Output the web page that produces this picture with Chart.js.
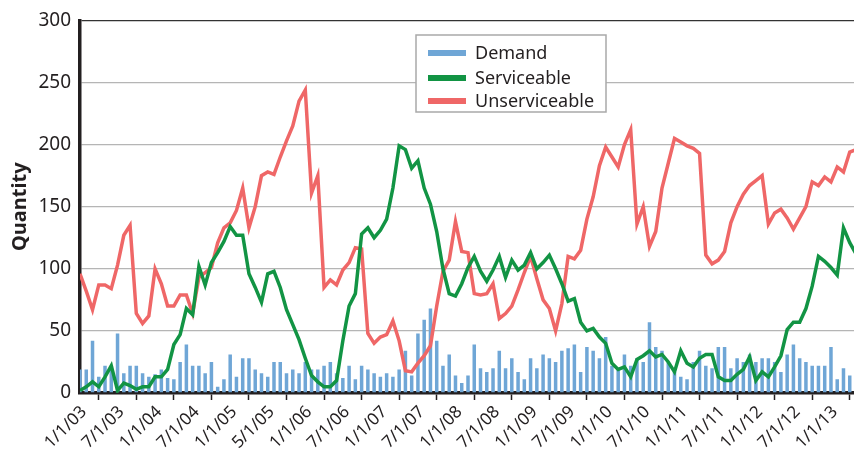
<!DOCTYPE html>
<html>
<head>
<meta charset="utf-8">
<script src="https://cdn.jsdelivr.net/npm/chart.js@4/dist/chart.umd.min.js"></script>
<style>
  html, body { margin:0; padding:0; background:#fff; overflow:hidden; }
  #wrap { width:860px; height:456px; }
</style>
</head>
<body>
<div id="wrap"><canvas id="chart" width="860" height="456"></canvas></div>
<script>
// ---------- DATA ----------
// one point per period, tick label every 6th point
const tickLabels = ["1/1/03","7/1/03","1/1/04","7/1/04","1/1/05","5/1/05","1/1/06","7/1/06",
  "1/1/07","7/1/07","1/1/08","7/1/08","1/1/09","7/1/09","1/1/10","7/1/10","1/1/11","7/1/11",
  "1/1/12","7/1/12","1/1/13"];

const demand = [19,19,42,13,22,22,48,16,22,22, 16,13,15,19,12,11,25,39,22,22,
  16,25,5,11,31,13,28,28,19,16, 13,25,25,16,19,16,25,19,19,22,
  25,16,12,22,11,22,19,16,13,16, 13,19,34,14,48,59,68,42,22,31,
  14,8,14,39,20,17,20,34,20,28, 17,11,28,20,31,28,25,34,36,39,
  17,37,34,28,45,22,20,31,22,28, 25,57,37,34,25,17,13,11,25,34,
  22,20,37,37,20,28,25,31,25,28, 28,25,17,31,39,28,25,22,22,22,
  37,11,20,14,18];

const serviceable = [2,5,9,5,13,22,2,8,6,3, 5,5,13,13,19,39,47,68,63,102,
  87,105,113,122,134,127,127,96,85,73, 96,98,85,67,55,43,28,14,9,5,
  5,10,42,70,80,128,133,125,131,140, 165,199,196,181,187,165,152,130,100,80,
  78,88,101,110,98,90,99,110,93,107, 99,103,113,100,105,111,100,88,74,76,
  57,50,52,45,40,24,19,21,13,27, 30,34,29,31,25,17,34,24,21,28,
  31,31,13,10,10,15,19,29,10,17, 13,21,30,51,57,57,68,86,110,106,
  101,95,133,121,112];

const unserviceable = [96,82,67,87,87,84,103,127,135,64, 56,62,100,88,70,70,79,79,64,93,
  97,101,121,133,137,147,165,133,150,175, 178,176,190,203,215,235,244,161,175,85,
  91,87,99,105,117,116,48,40,45,47, 58,42,18,17,24,30,38,70,98,107,
  138,114,113,80,79,80,88,60,64,70, 83,97,110,92,75,68,50,72,110,108,
  115,140,158,183,198,190,182,200,212,136, 150,118,130,165,185,205,202,199,197,193,
  111,104,107,114,137,150,160,167,171,175, 136,145,148,141,132,141,150,170,167,174,
  170,182,178,194,196];

const idx = demand.map((_, i) => i);

const TEXT = "#231f20";
const FONT = "'Noto Sans', 'Open Sans', sans-serif";

// ---------- LEGEND BOX INSIDE PLOT ----------
const boxLegend = {
  id: "boxLegend",
  afterDatasetsDraw(chart){
    const ctx = chart.ctx;
    ctx.save();
    ctx.fillStyle = "#fff";
    ctx.fillRect(416, 35, 190, 77);
    ctx.strokeStyle = "#a9a9a9";
    ctx.lineWidth = 1.5;
    ctx.strokeRect(416, 35, 190, 77);
    const rows = [53, 78, 101];
    ctx.font = "18px " + FONT;
    ctx.textBaseline = "middle";
    chart.data.datasets.forEach((ds, i) => {
      ctx.fillStyle = ds.legendColor;
      ctx.fillRect(428, rows[i] - 3, 38, 6);
      ctx.fillStyle = TEXT;
      ctx.fillText(ds.label, 475, rows[i] + 1);
    });
    ctx.restore();
  }
};

// ---------- CHART ----------
new Chart(document.getElementById("chart"), {
  type: "bar",
  data: {
    labels: idx,
    datasets: [
      {
        type: "bar",
        label: "Demand",
        data: demand,
        backgroundColor: "#6fa6d6",
        legendColor: "#6fa6d6",
        barPercentage: 0.56,
        categoryPercentage: 1.0,
        order: 3
      },
      {
        type: "line",
        label: "Serviceable",
        data: serviceable,
        borderColor: "#129444",
        legendColor: "#129444",
        borderWidth: 3.5,
        pointRadius: 0,
        tension: 0,
        order: 1
      },
      {
        type: "line",
        label: "Unserviceable",
        data: unserviceable,
        borderColor: "#ef6767",
        legendColor: "#ef6767",
        borderWidth: 3.5,
        pointRadius: 0,
        tension: 0,
        order: 2
      }
    ]
  },
  options: {
    responsive: false,
    animation: false,
    layout: { padding: { top: 15, right: 4, left: 0, bottom: 0 } },
    plugins: {
      legend: { display: false },
      tooltip: { enabled: false }
    },
    scales: {
      x: {
        type: "linear",
        min: 0,
        max: 124,
        offset: false,
        afterFit: s => { s.height = 63; },
        border: { display: true, color: "#231f20", width: 3.5 },
        grid: {
          drawOnChartArea: false,
          drawTicks: true,
          tickLength: 7,
          tickColor: TEXT,
          tickWidth: 1.5
        },
        ticks: {
          stepSize: 6,
          includeBounds: false,
          autoSkip: false,
          minRotation: 45,
          maxRotation: 45,
          labelOffset: 4,
          padding: 2,
          color: TEXT,
          font: { family: FONT, size: 17 },
          callback: v => tickLabels[v / 6] || ""
        }
      },
      y: {
        min: 0,
        max: 300,
        afterFit: s => { s.width = 80; },
        border: { display: true, color: "#231f20", width: 3.5 },
        grid: {
          drawTicks: false,
          lineWidth: 1.3,
          color: c => c.tick && c.tick.value === 300 ? "#333" : "#b5b5b5"
        },
        ticks: {
          stepSize: 50,
          padding: 9,
          color: TEXT,
          font: { family: FONT, size: 19 }
        },
        title: {
          display: true,
          text: "Quantity",
          color: TEXT,
          padding: { top: 8, bottom: 0 },
          font: { family: FONT, size: 20, weight: "bold" }
        }
      }
    }
  },
  plugins: [boxLegend]
});
</script>
</body>
</html>
